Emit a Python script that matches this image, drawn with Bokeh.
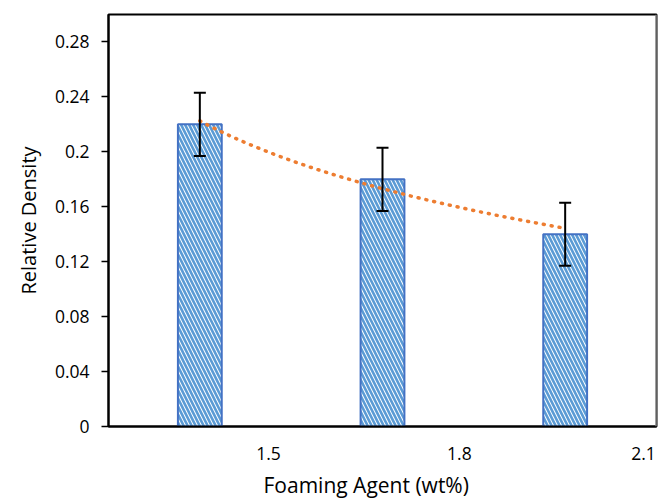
import numpy as np
from bokeh.plotting import figure
from bokeh.models import ColumnDataSource, Range1d, FixedTicker, Whisker, Span, Title
from bokeh.embed import file_html
from bokeh.resources import INLINE

# ---- data ----
x_labels = ["1.5", "1.8", "2.1"]
density = [0.22, 0.18, 0.14]
err = [0.023, 0.023, 0.023]
y_ticks = [0, 0.04, 0.08, 0.12, 0.16, 0.2, 0.24, 0.28]
y_tick_labels = ["0", "0.04", "0.08", "0.12", "0.16", "0.2", "0.24", "0.28"]
x_title = "Foaming Agent (wt%)"
y_title = "Relative Density"

FONT = "Open Sans"

idx = np.arange(len(density))
xpos = idx + 0.5
src = ColumnDataSource(dict(
    x=xpos, top=density,
    upper=[d + e for d, e in zip(density, err)],
    lower=[d - e for d, e in zip(density, err)],
))

p = figure(width=659, height=504, output_backend="svg", toolbar_location=None,
           x_range=Range1d(0, 3), y_range=Range1d(0, 0.30),
           min_border_left=108, min_border_right=3, min_border_top=14, min_border_bottom=77)
p.background_fill_color = "white"
p.border_fill_color = "white"
p.outline_line_color = "black"
p.outline_line_width = 2
p.xgrid.grid_line_color = None
p.ygrid.grid_line_color = None

p.vbar(x="x", top="top", width=0.24, bottom=0, source=src,
       fill_color="white", line_color="#4472C4", line_width=2,
       hatch_pattern="left_diagonal_line", hatch_color="#5B9BD5",
       hatch_scale=8, hatch_weight=2.6)

# logarithmic trendline fitted to the data (Excel-style log trend)
coef = np.polyfit(np.log(idx + 1), density, 1)
tx = np.linspace(1, len(density), 60)
ty = coef[0] * np.log(tx) + coef[1]
p.line(tx - 0.5, ty, line_color="#ED7D31", line_width=3.5,
       line_dash="1 7", line_cap="round")

w = Whisker(base="x", upper="upper", lower="lower", source=src,
            line_color="black", line_width=2, level="overlay")
w.upper_head.line_color = "black"
w.lower_head.line_color = "black"
w.upper_head.line_width = 2
w.lower_head.line_width = 2
w.upper_head.size = 12
w.lower_head.size = 12
p.add_layout(w)

# right edge in light grey
p.add_layout(Span(location=3, dimension="height", line_color="#BFBFBF", line_width=2))

# y axis
p.yaxis.ticker = FixedTicker(ticks=y_ticks)
p.yaxis.major_label_overrides = {t: l for t, l in zip(y_ticks, y_tick_labels)}
p.yaxis.minor_tick_line_color = None
p.yaxis.major_tick_in = 0
p.yaxis.major_tick_out = 7
p.yaxis.major_tick_line_color = "black"
p.yaxis.major_tick_line_width = 1.5
p.yaxis.axis_line_color = "black"
p.yaxis.axis_line_width = 2
p.yaxis.major_label_text_font = FONT
p.yaxis.major_label_text_font_size = "17.5px"
p.yaxis.major_label_text_color = "black"
p.yaxis.major_label_standoff = 12
p.yaxis.axis_label = y_title
p.yaxis.axis_label_text_font = FONT
p.yaxis.axis_label_text_font_size = "20px"
p.yaxis.axis_label_text_font_style = "normal"
p.yaxis.axis_label_text_color = "black"
p.yaxis.axis_label_standoff = 10

# x axis
x_tick_pos = [0.876, 1.921, 2.929]
p.xaxis.ticker = FixedTicker(ticks=x_tick_pos)
p.xaxis.major_label_overrides = {t: l for t, l in zip(x_tick_pos, x_labels)}
p.xaxis.minor_tick_line_color = None
p.xaxis.major_tick_line_color = None
p.xaxis.axis_line_color = "black"
p.xaxis.axis_line_width = 2
p.xaxis.major_label_text_font = FONT
p.xaxis.major_label_text_font_size = "17.5px"
p.xaxis.major_label_text_color = "black"
p.xaxis.major_label_standoff = 14

# x-axis title, placed as a title below (offset slightly left as in the reference)
p.add_layout(Title(text=x_title, align="left", offset=155, standoff=12,
                   text_font=FONT, text_font_size="21px", text_font_style="normal",
                   text_color="black"), "below")

open("out.html", "w").write(file_html(p, INLINE))
